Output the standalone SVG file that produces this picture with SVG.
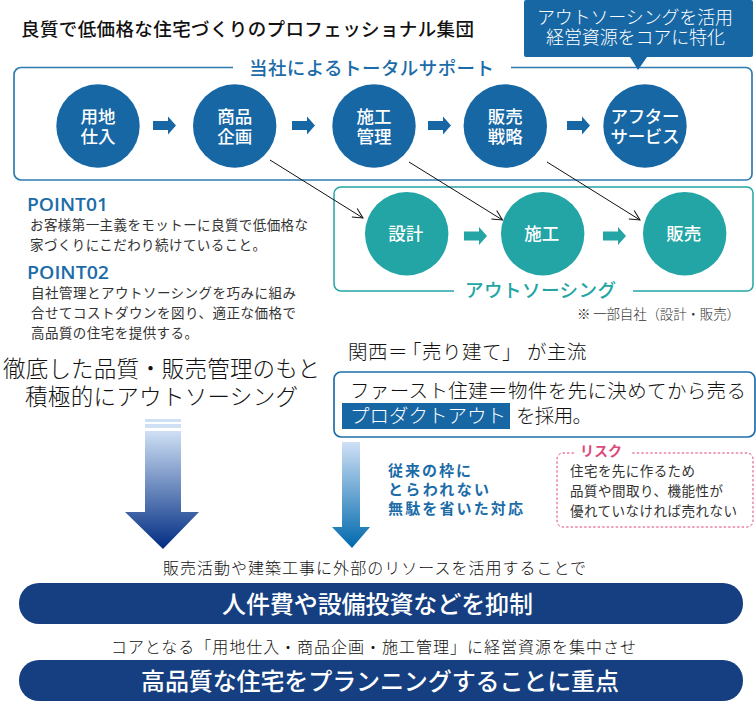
<svg xmlns="http://www.w3.org/2000/svg" width="756" height="702" viewBox="0 0 756 702">
<style>
text{font-family:"Noto Sans CJK JP","Noto Sans",sans-serif;fill:#222}
.c{text-anchor:middle;fill:#fff;font-size:17.500px;font-weight:500}
.b{fill:#1767a5}.t{fill:#23a5a5}
.blue{fill:#1b6ca8}
.teal{fill:#23a5a5}
.pt{font-family:"Open Sans","Noto Sans",sans-serif;font-size:18px;font-weight:600;fill:#1b6ca8}
.s{font-size:13.500px;fill:#333}
.big{font-size:22.500px;font-weight:300;fill:#111}
.m{font-size:19.500px;font-weight:300;fill:#111}
.n{font-size:15px;font-weight:700;fill:#1b6ca8}
.bar{fill:#153f80}
.bt{fill:#fff;font-weight:500;font-size:24px}
.sub{font-size:16px;font-weight:300;fill:#111}
.ln{fill:none;stroke:#111;stroke-width:1}
</style>
<defs>
<linearGradient id="g1" x1="0" y1="0" x2="0" y2="1"><stop offset="0" stop-color="#cfe0f5"/><stop offset="1" stop-color="#002c82"/></linearGradient>
<linearGradient id="g2" x1="0" y1="0" x2="0" y2="1"><stop offset="0" stop-color="#cfe0f5"/><stop offset="1" stop-color="#0069ad"/></linearGradient>
<marker id="open" markerWidth="14" markerHeight="14" refX="11" refY="6" orient="auto" markerUnits="userSpaceOnUse"><path d="M1 1 L11 6 L1 11" fill="none" stroke="#111" stroke-width="1"/></marker>
<path id="ar" d="M0 -4.500H15V-9L23 0L15 9V4.500H0Z"/>
</defs>

<text id="title" x="21" y="36" font-size="18.500" font-weight="500" style="fill:#111" textLength="453" lengthAdjust="spacing">良質で低価格な住宅づくりのプロフェッショナル集団</text>

<g id="total-support">
<path d="M233 67.500H21a7 7 0 0 0-7 7V173a7 7 0 0 0 7 7H746a6 6 0 0 0 6-6V73.500a6 6 0 0 0-6-6H511" fill="none" stroke="#2f7bb0" stroke-width="1.700"/>
<text x="249" y="75" class="blue" font-size="18.500" font-weight="500" textLength="245" lengthAdjust="spacing">当社によるトータルサポート</text>
</g>

<g id="callout">
<path d="M526 0H751a2 2 0 0 1 2 2V55a2 2 0 0 1-2 2H647L638 70L630 57H526a2 2 0 0 1-2-2V2a2 2 0 0 1 2-2Z" class="b"/>
<text x="537" y="24" font-size="18" font-weight="300" style="fill:#fff" textLength="196" lengthAdjust="spacing">アウトソーシングを活用</text>
<text x="546" y="44" font-size="18" font-weight="300" style="fill:#fff" textLength="179" lengthAdjust="spacing">経営資源をコアに特化</text>
</g>

<g id="node-yochi"><circle cx="98" cy="126" r="41.700" class="b"/><text class="c" x="98" y="122.500" textLength="35">用地</text><text class="c" x="98" y="143" textLength="35">仕入</text></g>
<g id="node-shohin"><circle cx="234.700" cy="126" r="41.700" class="b"/><text class="c" x="234.700" y="122.500" textLength="35">商品</text><text class="c" x="234.700" y="143" textLength="35">企画</text></g>
<g id="node-seko"><circle cx="374" cy="126" r="41.700" class="b"/><text class="c" x="374" y="122.500" textLength="35">施工</text><text class="c" x="374" y="143" textLength="35">管理</text></g>
<g id="node-hanbai"><circle cx="505.300" cy="126" r="41.700" class="b"/><text class="c" x="505.300" y="122.500" textLength="35">販売</text><text class="c" x="505.300" y="143" textLength="35">戦略</text></g>
<g id="node-after"><circle cx="645" cy="126" r="41.700" class="b"/><text class="c" x="645" y="122.500" textLength="69">アフター</text><text class="c" x="645" y="143" textLength="69">サービス</text></g>

<g id="outsourcing">
<path d="M454 291H341a7 7 0 0 1-7-7V194a7 7 0 0 1 7-7H747a6 6 0 0 1 6 6V285a6 6 0 0 1-6 6H633" fill="none" stroke="#23a5a5" stroke-width="1.500"/>
<text x="465" y="297" class="teal" font-size="18.500" font-weight="500" textLength="151" lengthAdjust="spacing">アウトソーシング</text>
</g>
<g id="node-sekkei"><circle cx="406.700" cy="233.800" r="41.700" class="t"/><text class="c" x="405.700" y="240" font-weight="700" textLength="35">設計</text></g>
<g id="node-seko2"><circle cx="542.700" cy="233.800" r="41.700" class="t"/><text class="c" x="541.700" y="240" font-weight="700" textLength="35">施工</text></g>
<g id="node-hanbai2"><circle cx="684.700" cy="233.800" r="41.700" class="t"/><text class="c" x="683.700" y="240" font-weight="700" textLength="35">販売</text></g>

<g id="connectors">
<use href="#ar" x="153" y="125.500" class="b"/>
<use href="#ar" x="292" y="125.500" class="b"/>
<use href="#ar" x="428" y="125.500" class="b"/>
<use href="#ar" x="567" y="125.500" class="b"/>
<use href="#ar" x="464" y="236" class="t"/>
<use href="#ar" x="603" y="236" class="t"/>
<line x1="270" y1="160" x2="363" y2="218" class="ln" marker-end="url(#open)"/>
<line x1="409" y1="162" x2="502.500" y2="220" class="ln" marker-end="url(#open)"/>
<line x1="547" y1="162" x2="640" y2="220" class="ln" marker-end="url(#open)"/>
</g>

<text x="577" y="319" font-size="13.500" font-weight="300" style="fill:#333" textLength="163" lengthAdjust="spacing">※ 一部自社（設計・販売）</text>

<g id="points">
<text class="pt" x="27" y="210.500" textLength="81" lengthAdjust="spacingAndGlyphs">POINT01</text>
<text class="s" x="30" y="230" textLength="278" lengthAdjust="spacing">お客様第一主義をモットーに良質で低価格な</text>
<text class="s" x="30" y="250" textLength="236" lengthAdjust="spacing">家づくりにこだわり続けていること。</text>
<text class="pt" x="27" y="278.500" textLength="82" lengthAdjust="spacingAndGlyphs">POINT02</text>
<text class="s" x="31" y="298" textLength="265" lengthAdjust="spacing">自社管理とアウトソーシングを巧みに組み</text>
<text class="s" x="31" y="318" textLength="265" lengthAdjust="spacing">合せてコストダウンを図り、適正な価格で</text>
<text class="s" x="31" y="338" textLength="167" lengthAdjust="spacing">高品質の住宅を提供する。</text>
</g>

<text class="big" x="3" y="377" textLength="317" lengthAdjust="spacing">徹底した品質・販売管理のもと</text>
<text class="big" x="25" y="405" textLength="273" lengthAdjust="spacing">積極的にアウトソーシング</text>

<text class="m" x="348 368 388 402 422 442 462 482 502 527 547 567" y="359">関西＝「売り建て」が主流</text>

<g id="first-jyuken">
<rect x="334" y="372" width="421" height="65" rx="7" fill="#fff" stroke="#1e6fab" stroke-width="1.700"/>
<text class="m" x="350" y="398" textLength="396" lengthAdjust="spacing">ファースト住建＝物件を先に決めてから売る</text>
<rect x="342" y="403" width="168" height="26" class="b"/>
<text class="m" x="350" y="423" style="fill:#fff" textLength="156" lengthAdjust="spacing">プロダクトアウト</text>
<text class="m" x="516" y="423" textLength="76" lengthAdjust="spacing">を採用。</text>
</g>

<g id="big-arrow">
<rect x="145" y="419" width="36" height="3" fill="#cfe0f5"/>
<rect x="145" y="424" width="36" height="4" fill="#cfe0f5"/>
<path d="M145 431H181V512H199L163 549L125 512H145Z" fill="url(#g1)"/>
</g>
<path id="small-arrow" d="M342 442H360V527H370L352 548L332 527H342Z" fill="url(#g2)"/>

<g id="note">
<text class="n" x="388" y="476" textLength="83" lengthAdjust="spacing">従来の枠に</text>
<text class="n" x="388" y="495" textLength="101" lengthAdjust="spacing">とらわれない</text>
<text class="n" x="388" y="514" textLength="135" lengthAdjust="spacing">無駄を省いた対応</text>
</g>

<g id="risk">
<path d="M574 453H563a6 6 0 0 0-6 6V521a6 6 0 0 0 6 6H747a6 6 0 0 0 6-6V459a6 6 0 0 0-6-6H632" fill="none" stroke="#e0457b" stroke-width="1" stroke-dasharray="2.500 2"/>
<text x="580" y="456" font-size="14" font-weight="700" style="fill:#dc4a7c" textLength="42" lengthAdjust="spacing">リスク</text>
<text class="s" x="570" y="476" textLength="125" lengthAdjust="spacing">住宅を先に作るため</text>
<text class="s" x="570" y="496" textLength="153" lengthAdjust="spacing">品質や間取り、機能性が</text>
<text class="s" x="570" y="516" textLength="167" lengthAdjust="spacing">優れていなければ売れない</text>
</g>

<text class="sub" x="163" y="574" textLength="423" lengthAdjust="spacing">販売活動や建築工事に外部のリソースを活用することで</text>
<g id="bar1"><rect x="19" y="583" width="724" height="41" rx="20" class="bar"/><text class="bt" x="222" y="613" textLength="311" lengthAdjust="spacing">人件費や設備投資などを抑制</text></g>
<text class="sub" x="111" y="653" textLength="525" lengthAdjust="spacing">コアとなる「用地仕入・商品企画・施工管理」に経営資源を集中させ</text>
<g id="bar2"><rect x="19" y="660" width="724" height="41" rx="20" class="bar"/><text class="bt" x="141" y="690" textLength="478" lengthAdjust="spacing">高品質な住宅をプランニングすることに重点</text></g>
</svg>
